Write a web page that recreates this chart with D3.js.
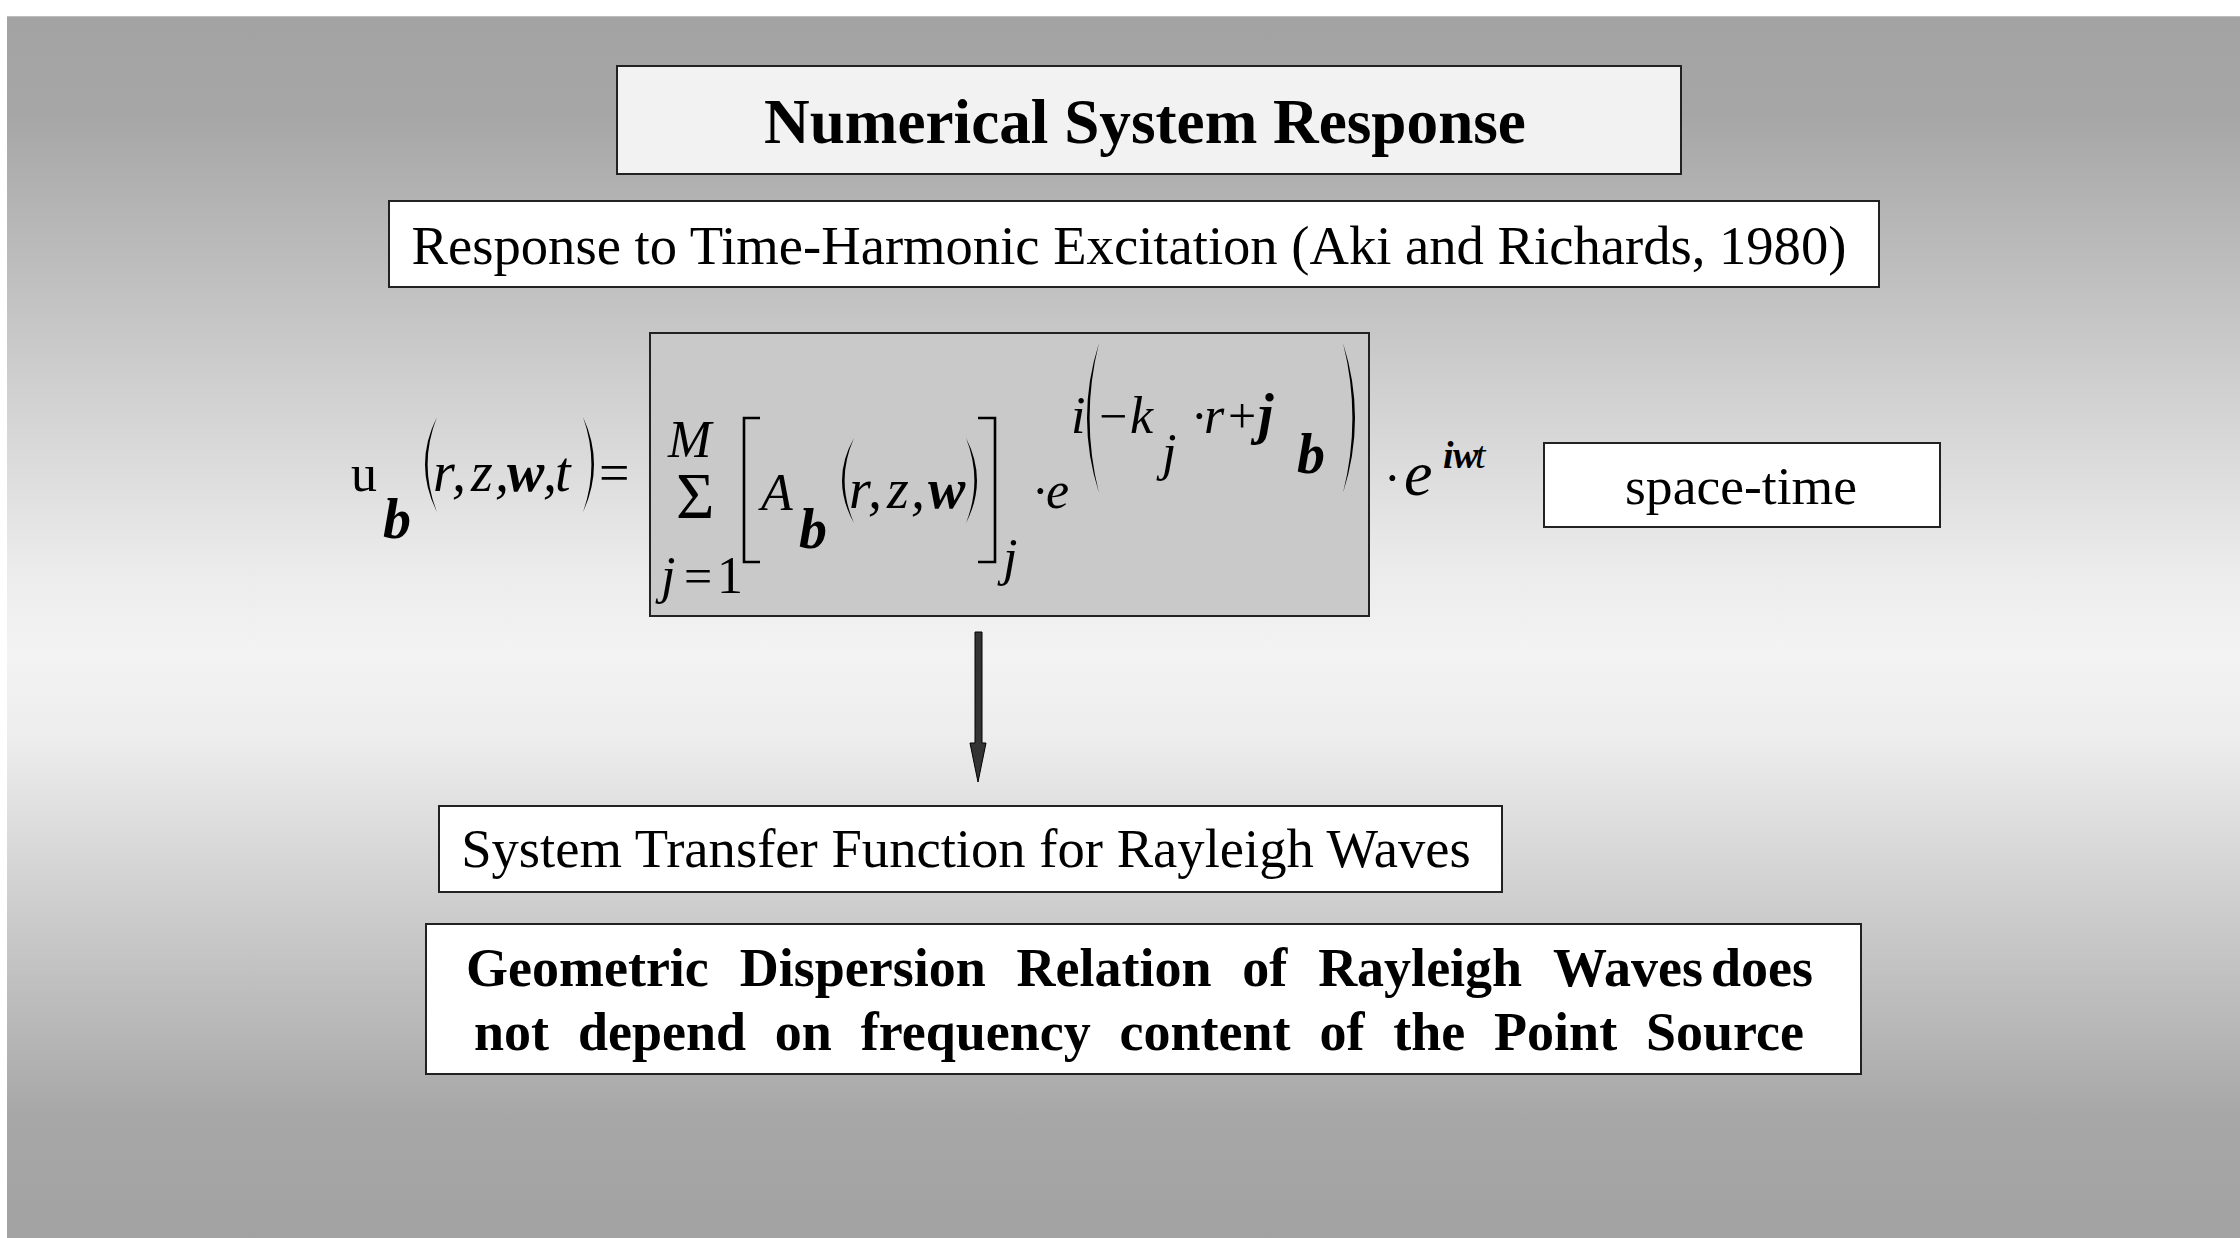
<!DOCTYPE html>
<html><head><meta charset="utf-8">
<script src="https://cdn.jsdelivr.net/npm/d3@7"></script>
<style>html,body{margin:0;padding:0;background:#fff;overflow:hidden}</style>
</head><body>
<svg id="s" width="2240" height="1238"></svg>
<script>
// ---- content ----
const titleText = "Numerical System Response";
const subtitleText = "Response to Time-Harmonic Excitation (Aki and Richards, 1980)";
const sideLabel = "space-time";
const transferText = "System Transfer Function for Rayleigh Waves";
const conclusionLine1 = ["Geometric","Dispersion","Relation","of","Rayleigh","Waves+does"];
const conclusionLine2 = ["not","depend","on","frequency","content","of","the","Point","Source"];

// formula glyphs: [text, style]  (n normal, i italic, bi bold italic)
const formulaGlyphs = [
  ["u","n"],["b","bi"],["r","i"],[",","i"],["z","i"],[",","i"],["w","bi"],[",","i"],["t","i"],["=","n"],
  ["M","i"],["\u03A3","n"],["j","i"],["=","n"],["1","n"],
  ["A","i"],["b","bi"],["r","i"],[",","i"],["z","i"],[",","i"],["w","bi"],
  ["j","i"],["\u00B7","n"],["e","i"],
  ["i","i"],["\u2212","n"],["k","i"],["j","i"],["\u00B7","n"],["r","i"],["+","n"],["j","bi"],["b","bi"],
  ["\u00B7","n"],["e","i"],["i","bi"],["w","bi"],["t","i"]
];
// layout of the glyphs above: [x, baseline, size]
const formulaLayout = [
  [351,491,52],[383,538,56],[433,491,56],[452,491,56],[471,491,56],[495,491,56],[507,491,56],[543,491,56],[555,491,56],[599,491,54],
  [668,457,52],[676,518,66],[661,593,52],[684,593,50],[717,593,52],
  [761,510,52],[799,548,56],[849,508,56],[868,508,56],[887,508,56],[911,508,56],[928,508,56],
  [1003,575,52],[1032,508,50],[1046,508,52],
  [1071,433,52],[1099,433,50],[1130,433,52],[1162,470,52],[1191,433,50],[1204,433,52],[1228,433,50],[1258,433,56],[1297,473,56],
  [1384,495,50],[1404,495,64],[1443,468,38],[1453,468,38],[1475,468,38]
];
// delimiters: [type, xLeft, xRight, top, bottom]
const delimiters = [
  ["(",425,437,417,512],[")",583,594,417,512],
  ["[",743,760,418,562],
  ["(",842,854,438,523],[")",966,977,438,523],
  ["]",978,996,418,562],
  ["(",1087,1099,343,493],[")",1343,1355,343,493]
];

const FONT = "'Liberation Serif','Times New Roman',Times,serif";
const svg = d3.select("#s");

// ---- background ----
const defs = svg.append("defs");
const g = defs.append("linearGradient").attr("id","bg").attr("x1",0).attr("x2",0).attr("y1",0).attr("y2",1);
[[0,"#a3a3a3"],[0.08,"#a6a6a6"],[0.45,"#ebebeb"],[0.52,"#f3f3f3"],[0.59,"#ededed"],[0.9,"#a7a7a7"],[1,"#a2a2a2"]]
  .forEach(([o,c])=>g.append("stop").attr("offset",o).attr("stop-color",c));
svg.append("rect").attr("x",7).attr("y",16).attr("width",2233).attr("height",1222).attr("fill","url(#bg)");
svg.append("line").attr("x1",7).attr("x2",2240).attr("y1",16.5).attr("y2",16.5).attr("stroke","#bdbdbd").attr("stroke-width",1);

// ---- boxes ----
const boxes = [
  {x:617,y:66,w:1064,h:108,fill:"#f2f2f2"},
  {x:389,y:201,w:1490,h:86,fill:"#ffffff"},
  {x:650,y:333,w:719,h:283,fill:"#c9c9c9"},
  {x:1544,y:443,w:396,h:84,fill:"#ffffff"},
  {x:439,y:806,w:1063,h:86,fill:"#ffffff"},
  {x:426,y:924,w:1435,h:150,fill:"#ffffff"}
];
svg.selectAll("rect.box").data(boxes).join("rect").attr("class","box")
  .attr("x",d=>d.x).attr("y",d=>d.y).attr("width",d=>d.w).attr("height",d=>d.h)
  .attr("fill",d=>d.fill).attr("stroke","#222").attr("stroke-width",2);

// ---- fitted centred text ----
function fitText(txt, cx, y, base, target, weight){
  const t = svg.append("text").attr("x",cx).attr("y",y).attr("text-anchor","middle")
    .attr("font-family",FONT).attr("font-weight",weight).attr("font-size",base).attr("fill","#000").text(txt);
  const w = t.node().getComputedTextLength();
  let fs = base*target/w; fs = Math.max(base*0.9, Math.min(base*1.1, fs));
  t.attr("font-size",fs);
  return t;
}
fitText(titleText, 1145, 143, 63, 762, "bold");
fitText(subtitleText, 1129, 264, 54, 1435, "normal");
fitText(sideLabel, 1741, 504, 54, 232, "normal");
fitText(transferText, 966, 867, 54, 1010, "normal");

// ---- justified conclusion ----
function justify(words, x0, x1, y, fs){
  const grp = svg.append("g").attr("font-family",FONT).attr("font-weight","bold").attr("font-size",fs).attr("fill","#000");
  const tokens = words.map(w=>w.split("+"));
  const measure = s => { const t = grp.append("text").text(s); const w = t.node().getComputedTextLength(); t.remove(); return w; };
  const tight = 8;
  const widths = tokens.map(parts=>parts.map(measure));
  const tokW = widths.map(ws=>d3.sum(ws)+tight*(ws.length-1));
  const gap = ((x1-x0)-d3.sum(tokW))/(tokens.length-1);
  let x = x0;
  tokens.forEach((parts,i)=>{
    let xx = x;
    parts.forEach((p,j)=>{ grp.append("text").attr("x",xx).attr("y",y).text(p); xx += widths[i][j]+tight; });
    x += tokW[i]+gap;
  });
}
justify(conclusionLine1, 466, 1813, 986, 54);
justify(conclusionLine2, 474, 1804, 1050, 54);

// ---- formula ----
const fg = svg.append("g").attr("font-family",FONT).attr("fill","#000");
formulaGlyphs.forEach((gl,i)=>{
  const [txt,st] = gl, [x,y,fs] = formulaLayout[i];
  fg.append("text").attr("x",x).attr("y",y).attr("font-size",fs)
    .attr("font-style", st==="n"?"normal":"italic")
    .attr("font-weight", st==="bi"?"bold":"normal").text(txt);
});
delimiters.forEach(([type,xl,xr,top,bot])=>{
  const mid=(top+bot)/2, th=2.6;
  if(type==="("){
    fg.append("path").attr("d",`M${xr},${top} Q${2*xl-xr},${mid} ${xr},${bot} Q${2*(xl+th)-xr},${mid} ${xr},${top} Z`).attr("fill","#000");
  } else if(type===")"){
    fg.append("path").attr("d",`M${xl},${top} Q${2*xr-xl},${mid} ${xl},${bot} Q${2*(xr-th)-xl},${mid} ${xl},${top} Z`).attr("fill","#000");
  } else if(type==="["){
    fg.append("path").attr("d",`M${xr},${top} H${xl+1} V${bot} H${xr}`).attr("fill","none").attr("stroke","#000").attr("stroke-width",2.6);
  } else {
    fg.append("path").attr("d",`M${xl},${top} H${xr-1} V${bot} H${xl}`).attr("fill","none").attr("stroke","#000").attr("stroke-width",2.6);
  }
});

// ---- arrow ----
const arrowPts = [[975,632],[982,632],[982,743],[986,743],[978,782],[970,743],[975,743]];
svg.append("path").attr("d",d3.line()(arrowPts)+"Z").attr("fill","#333").attr("stroke","#000").attr("stroke-width",1);
</script>
</body></html>
